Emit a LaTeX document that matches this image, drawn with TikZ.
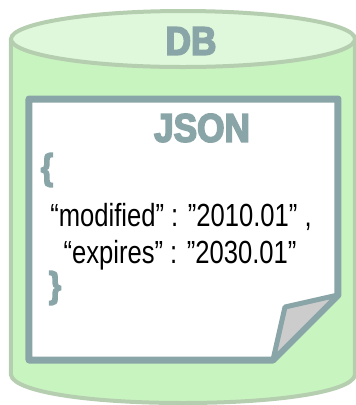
\documentclass[tikz,border=0pt]{standalone}
\usepackage{fontspec}
\usepackage{xcolor}
\setmainfont{Liberation Sans}
\newfontfamily\headfont[FakeBold=4, FakeStretch=0.88]{Liberation Sans Bold}
\newfontfamily\bodyfont[FakeStretch=0.8]{Liberation Sans}
\definecolor{dbfill}{HTML}{C8F4C0}
\definecolor{dbtop}{HTML}{DFF7DA}
\definecolor{dbline}{HTML}{B6CEB0}
\definecolor{paperline}{HTML}{8AA5A8}
\definecolor{foldfill}{HTML}{CCCCCC}
\tikzset{
    headlabel/.style={text=paperline, inner sep=0pt, font=\headfont\fontsize{30}{30}\selectfont},
    bracelabel/.style={text=paperline, inner sep=0pt, font=\headfont\fontsize{27}{27}\selectfont},
    bodylabel/.style={text=black, inner sep=0pt, font=\bodyfont\fontsize{24}{24}\selectfont}
}
\begin{document}
\begin{tikzpicture}[x=0.75pt, y=-0.75pt]
    \useasboundingbox (0, 0) rectangle (356, 405);
    \draw[draw=dbline, fill=dbfill, line width=3pt]
    (11, 39) -- (11, 375) .. controls (14, 392) and (90, 403) .. (183, 403)
    .. controls (276, 403) and (352, 392) .. (355, 375) -- (355, 39);
    \draw[draw=dbline, fill=dbtop, line width=3pt] (183, 39) ellipse (172 and 28);

    \draw[draw=paperline, fill=white, line width=5.25pt, line join=round]
    (29, 99) -- (338, 99) -- (338, 295) -- (273, 360) -- (29, 360) -- cycle;
    \draw[draw=paperline, fill=foldfill, line width=3.75pt, line join=round]
    (338, 295) -- (285, 307) -- (273, 360) -- cycle;

    \node[headlabel] (dblabel) at (191, 41) {DB};
    \node[headlabel] (jsonlabel) at (202, 128) {JSON};
    \node[bracelabel] (openbrace) at (47, 170) {\{};
    \node[bracelabel] (closebrace) at (55, 288) {\}};
    \node[bodylabel] (firstline) at (181, 217) {“modified” : ”2010.01” ,};
    \node[bodylabel] (secondline) at (180, 255) {“expires” : ”2030.01”};
\end{tikzpicture}
\end{document}
